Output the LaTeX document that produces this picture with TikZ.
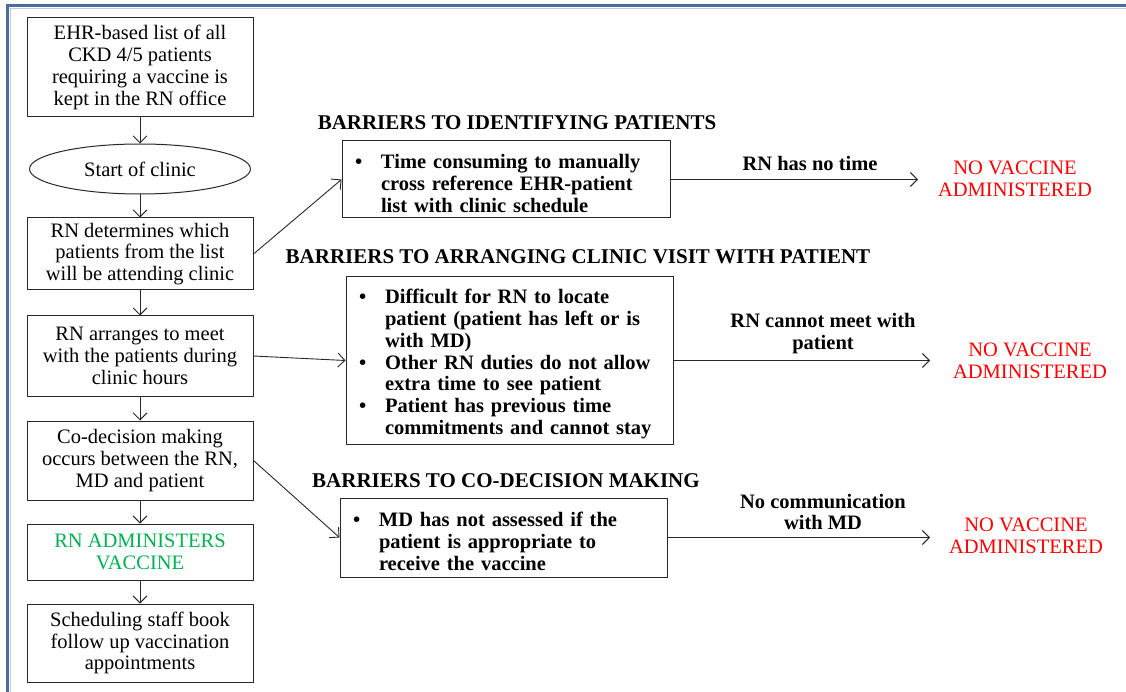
\documentclass[tikz,border=0pt]{standalone}
\usepackage{fontspec}
\setmainfont{Liberation Serif}
\usetikzlibrary{arrows.meta,shapes.geometric}
\definecolor{framebl}{RGB}{74,108,158}
\definecolor{framelt}{RGB}{190,202,222}
\definecolor{okgreen}{RGB}{0,176,80}
\definecolor{linegray}{RGB}{40,40,40}
\newcommand{\bitem}[1]{\par\noindent\hyphenpenalty=10000\hangindent=29pt\hangafter=1\makebox[29pt][l]{\hspace{3pt}\textbullet}#1\par}
\begin{document}
\begin{tikzpicture}[x=1pt,y=-1pt,
  txt/.style={font=\fontsize{20.5}{21.8}\selectfont},
  flow/.style={txt, draw=linegray, line width=1pt, minimum width=226pt, inner sep=0pt, align=center},
  oval/.style={txt, draw=linegray, line width=1pt, ellipse, minimum width=221pt, minimum height=50pt, inner sep=0pt},
  barrier/.style={font=\fontsize{20.5}{21.8}\selectfont\bfseries, draw=linegray, line width=1pt, inner xsep=10pt, inner ysep=0pt, align=left},
  title/.style={font=\fontsize{21}{22}\selectfont\bfseries, inner sep=0pt},
  lbl/.style={font=\fontsize{20.5}{21.8}\selectfont\bfseries, inner sep=0pt, align=center},
  novac/.style={font=\fontsize{20.5}{21.8}\selectfont, text=red, inner sep=0pt, align=center},
  arr/.style={draw=linegray, line width=0.9pt, -{Straight Barb[length=7pt,width=14pt,line width=0.9pt]}}
]
\useasboundingbox (0,0) rectangle (1126,692);
% frame
\draw[framelt, line width=1pt] (10,9) -- (1126,9);
\draw[framelt, line width=1pt] (10,9) -- (10,692);
\draw[framebl, line width=3pt] (5.5,5.5) -- (1126,5.5);
\draw[framebl, line width=3pt] (7,5.5) -- (7,692);

% left column
\node[flow, minimum height=99pt] (b1) at (140,67.5) {EHR-based list of all\\CKD 4/5 patients\\requiring a vaccine is\\kept in the RN office};
\node[oval] (b0) at (140,169) {Start of clinic};
\node[flow, minimum height=72pt] (b2) at (140,254) {RN determines which\\patients from the list\\will be attending clinic};
\node[flow, minimum height=80pt] (b3) at (140,356) {RN arranges to meet\\with the patients during\\clinic hours};
\node[flow, minimum height=79pt] (b4) at (140,460.5) {Co-decision making\\occurs between the RN,\\MD and patient};
\node[flow, minimum height=56pt, text=okgreen] (b5) at (140,552) {RN ADMINISTERS\\VACCINE};
\node[flow, minimum height=78pt] (b6) at (140,643) {Scheduling staff book\\follow up vaccination\\appointments};

\draw[arr] (b1) -- (b0);
\draw[arr] (b0) -- (b2);
\draw[arr] (b2) -- (b3);
\draw[arr] (b3) -- (b4);
\draw[arr] (b4) -- (b5);
\draw[arr] (b5) -- (b6);

% barriers
\node[title] (t1) at (517,123) {BARRIERS TO IDENTIFYING PATIENTS};
\node[barrier, text width=308pt, minimum height=77pt] (r1) at (506,179.5) {\bitem{Time consuming to manually\newline cross reference EHR-patient\newline list with clinic schedule}};

\node[title] (t2) at (578,257) {BARRIERS TO ARRANGING CLINIC VISIT WITH PATIENT};
\node[barrier, text width=307pt, minimum height=167pt] (r2) at (509.5,360.5) {\bitem{Difficult for RN to locate\newline patient (patient has left or is\newline with MD)}\bitem{Other RN duties do not allow\newline extra time to see patient}\bitem{Patient has previous time\newline commitments and cannot stay}};

\node[title] (t3) at (506,481) {BARRIERS TO CO-DECISION MAKING};
\node[barrier, text width=307pt, minimum height=79pt] (r3) at (503.5,537.5) {\bitem{MD has not assessed if the\newline patient is appropriate to\newline receive the vaccine}};

\draw[arr] (b2.east) -- (r1.west);
\draw[arr] (b3.east) -- (r2.west);
\draw[arr] (b4.east) -- (r3.west);

% outcomes
\coordinate (e1) at (918,179.5);
\coordinate (e2) at (930,360.5);
\coordinate (e3) at (930,537.5);
\draw[arr] (r1.east) -- (e1);
\draw[arr] (r2.east) -- (e2);
\draw[arr] (r3.east) -- (e3);

\node[lbl] (l1) at (810,163) {RN has no time};
\node[lbl] (l2) at (823,333.5) {RN cannot meet with\\patient};
\node[lbl] (l3) at (823,512) {No communication\\with MD};

\node[novac] (n1) at (1015,179) {NO VACCINE\\ADMINISTERED};
\node[novac] (n2) at (1030,361) {NO VACCINE\\ADMINISTERED};
\node[novac] (n3) at (1026,536) {NO VACCINE\\ADMINISTERED};
\end{tikzpicture}
\end{document}
